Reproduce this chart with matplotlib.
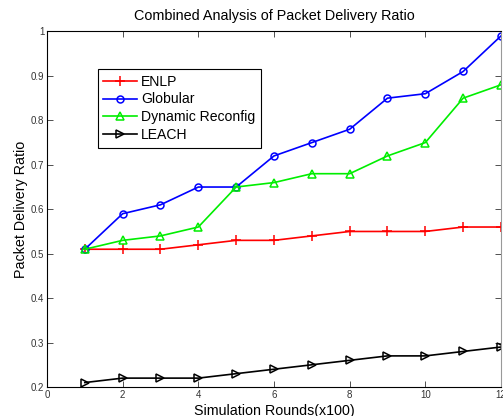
import matplotlib
matplotlib.use("Agg")
import matplotlib.pyplot as plt

plt.rcParams["font.family"] = ["Liberation Sans", "DejaVu Sans"]

# Packet delivery ratio per simulation round (x100)
rounds = [1, 2, 3, 4, 5, 6, 7, 8, 9, 10, 11, 12]
enlp = [0.51, 0.51, 0.51, 0.52, 0.53, 0.53, 0.54, 0.55, 0.55, 0.55, 0.56, 0.56]
globular = [0.51, 0.59, 0.61, 0.65, 0.65, 0.72, 0.75, 0.78, 0.85, 0.86, 0.91, 0.99]
dynamic = [0.51, 0.53, 0.54, 0.56, 0.65, 0.66, 0.68, 0.68, 0.72, 0.75, 0.85, 0.88]
leach = [0.21, 0.22, 0.22, 0.22, 0.23, 0.24, 0.25, 0.26, 0.27, 0.27, 0.28, 0.29]

fig = plt.figure(figsize=(5.03, 4.16), dpi=100)
fig.patch.set_facecolor("white")
ax = fig.add_axes([0.0934, 0.0697, 0.9026, 0.8546])

ax.plot(rounds, enlp, color="#ff0000", marker="+", ms=7, mew=1.1, lw=1.2,
        label="ENLP")
ax.plot(rounds, globular, color="#0000ff", marker="o", ms=5, mfc="none",
        mew=1.1, lw=1.2, label="Globular")
ax.plot(rounds, dynamic, color="#00ee00", marker="^", ms=6, mfc="none",
        mew=1.1, lw=1.2, label="Dynamic Reconfig")
ax.plot(rounds, leach, color="black", marker=">", ms=6, mfc="none",
        mew=1.1, lw=1.2, label="LEACH")

ax.set_xlim(0, 12)
ax.set_ylim(0.2, 1.0)
ax.set_xticks(range(0, 13, 2))
ax.set_yticks([0.2, 0.3, 0.4, 0.5, 0.6, 0.7, 0.8, 0.9, 1.0])
ax.set_yticklabels(["0.2", "0.3", "0.4", "0.5", "0.6", "0.7", "0.8", "0.9", "1"])
ax.tick_params(direction="in", top=True, right=True, labelsize=7,
               length=4, width=0.6, colors="#333333", pad=2)
for s in ax.spines.values():
    s.set_linewidth(0.8)
ax.spines["right"].set_color("#999999")

ax.set_title("Combined Analysis of Packet Delivery Ratio", fontsize=10.4, pad=8)
ax.set_xlabel("Simulation Rounds(x100)", fontsize=10.3, labelpad=3)
ax.set_ylabel("Packet Delivery Ratio", fontsize=10.3, labelpad=2)

leg = ax.legend(loc="upper left", bbox_to_anchor=(0.112, 0.894),
                borderaxespad=0, fontsize=10.1, handlelength=2.4,
                handletextpad=0.3, labelspacing=0.28, borderpad=0.38,
                fancybox=False, framealpha=1)
leg.get_frame().set_edgecolor("black")
leg.get_frame().set_linewidth(0.8)

fig.savefig("out.png", dpi=100, facecolor="white")
